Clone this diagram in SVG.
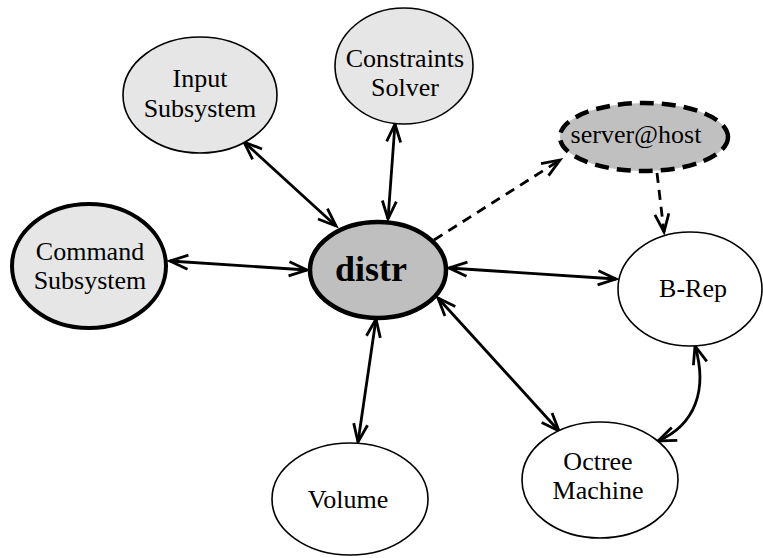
<svg xmlns="http://www.w3.org/2000/svg" width="763" height="558" viewBox="0 0 763 558" font-family="'Liberation Serif', 'Times New Roman', serif">
<style>
.n{stroke:#000;stroke-width:1.6}
.light{fill:#e6e6e6}
.white{fill:#fff}
.thick{stroke-width:4}
.t{font-size:26px;fill:#000;text-anchor:middle}
.e{fill:none;stroke:#000;stroke-width:2.8}
.d{stroke-dasharray:10,7}
</style>
<defs>
<marker id="a" markerUnits="userSpaceOnUse" markerWidth="26" markerHeight="20" viewBox="-2 -10 26 20" refX="18" refY="0" orient="auto-start-reverse">
<path d="M0,-7 L18,0 L0,7" fill="none" stroke="#000" stroke-width="2.8"/>
</marker>
</defs>
<rect width="763" height="558" fill="#fff"/>
<g id="connectors">
<line class="e" x1="170" y1="261" x2="307" y2="270" marker-start="url(#a)" marker-end="url(#a)"/>
<line class="e" x1="244" y1="142" x2="336" y2="226" marker-start="url(#a)" marker-end="url(#a)"/>
<line class="e" x1="395" y1="124" x2="388" y2="219" marker-start="url(#a)" marker-end="url(#a)"/>
<line class="e" x1="449" y1="268" x2="616" y2="279" marker-start="url(#a)" marker-end="url(#a)"/>
<line class="e" x1="438" y1="298" x2="559" y2="431" marker-start="url(#a)" marker-end="url(#a)"/>
<line class="e" x1="376" y1="319" x2="358" y2="442" marker-start="url(#a)" marker-end="url(#a)"/>
<path class="e" d="M695,346 C708,390 695,425 658,441" marker-start="url(#a)" marker-end="url(#a)"/>
<line class="e d" x1="434" y1="240" x2="560" y2="160" marker-end="url(#a)"/>
<line class="e d" x1="657" y1="173" x2="664" y2="232" marker-end="url(#a)"/>
</g>
<g id="input">
<ellipse class="n light" cx="200" cy="95" rx="77" ry="58"/>
<text class="t" x="200" y="87">Input</text>
<text class="t" x="200" y="117">Subsystem</text>
</g>
<g id="constraints">
<ellipse class="n light" cx="404" cy="66" rx="69" ry="58"/>
<text class="t" x="405" y="67">Constraints</text>
<text class="t" x="405" y="96">Solver</text>
</g>
<g id="server">
<ellipse cx="644" cy="137" rx="84" ry="34" fill="#c0c0c0" stroke="#000" stroke-width="4.5" stroke-dasharray="14,8"/>
<text class="t" x="636" y="143">server@host</text>
</g>
<g id="command">
<ellipse class="n light thick" cx="89" cy="266" rx="77" ry="62"/>
<text class="t" x="90" y="260">Command</text>
<text class="t" x="90" y="289">Subsystem</text>
</g>
<g id="distr">
<ellipse cx="378" cy="270" rx="68" ry="48" fill="#bfbfbf" stroke="#000" stroke-width="4.5"/>
<text x="371" y="281" font-size="36" font-weight="bold" text-anchor="middle" fill="#000">distr</text>
</g>
<g id="brep">
<ellipse class="n white" cx="690" cy="289" rx="72" ry="57"/>
<text class="t" x="693" y="297">B-Rep</text>
</g>
<g id="octree">
<ellipse class="n white" cx="600" cy="480" rx="78" ry="58"/>
<text class="t" x="598" y="470">Octree</text>
<text class="t" x="598" y="499">Machine</text>
</g>
<g id="volume">
<ellipse class="n white" cx="350" cy="499" rx="78" ry="56"/>
<text class="t" x="348" y="508">Volume</text>
</g>
</svg>
